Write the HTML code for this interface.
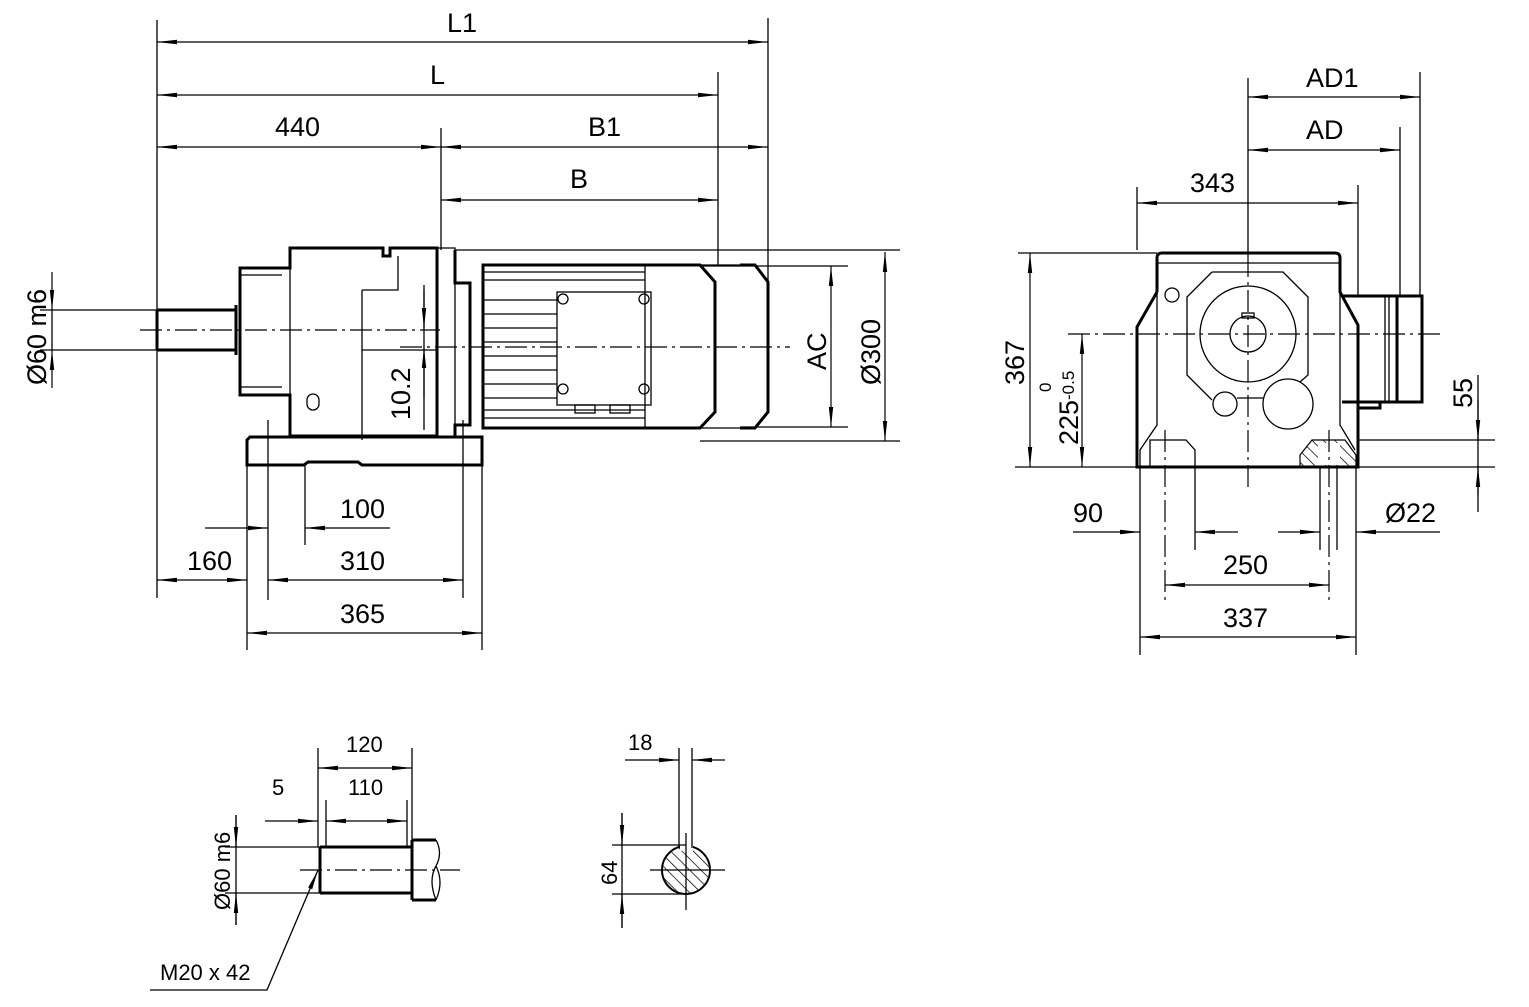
<!DOCTYPE html>
<html><head><meta charset="utf-8"><style>
html,body{margin:0;padding:0;background:#fff;}
svg{display:block;}
text{font-family:"Liberation Sans",sans-serif;font-size:27px;fill:#000;}
.t{stroke:#000;stroke-width:1.3;fill:none;}
.k{stroke:#000;stroke-width:3;fill:none;}
.c{stroke:#000;stroke-width:1.2;fill:none;stroke-dasharray:22,5,3,5;}
.d{stroke:#000;stroke-width:1.2;fill:none;marker-start:url(#a);marker-end:url(#a);}
.e{stroke:#000;stroke-width:1.2;fill:none;marker-end:url(#a);}
</style></head><body>
<svg width="1529" height="1007" viewBox="0 0 1529 1007" xmlns="http://www.w3.org/2000/svg">
<defs>
<marker id="a" viewBox="0 0 20 6" refX="20" refY="3" markerWidth="20" markerHeight="6" markerUnits="userSpaceOnUse" orient="auto-start-reverse">
<path d="M0,0.8 L20,3 L0,5.2 z" fill="#000"/></marker>
<pattern id="h" width="8" height="8" patternUnits="userSpaceOnUse" patternTransform="rotate(-45)"><line x1="0" y1="0" x2="0" y2="8" stroke="#000" stroke-width="1.5"/></pattern>
</defs>

<line class="t" x1="157" y1="20" x2="157" y2="598"/>
<line class="t" x1="768" y1="18" x2="768" y2="292"/>
<line class="t" x1="718" y1="72" x2="718" y2="265"/>
<line class="t" x1="441" y1="128" x2="441" y2="250"/>
<line class="d" x1="157" y1="42" x2="768" y2="42"/><text x="447" y="32">L1</text>
<line class="d" x1="157" y1="95" x2="718" y2="95"/><text x="430" y="84">L</text>
<line class="d" x1="157" y1="147" x2="441" y2="147"/><text x="275" y="136">440</text>
<line class="d" x1="441" y1="147" x2="768" y2="147"/><text x="588" y="136">B1</text>
<line class="d" x1="441" y1="200" x2="718" y2="200"/><text x="570" y="188">B</text>

<line class="t" x1="40" y1="310" x2="160" y2="310"/>
<line class="t" x1="40" y1="350" x2="160" y2="350"/>
<line class="e" x1="52" y1="272" x2="52" y2="310"/>
<line class="e" x1="52" y1="388" x2="52" y2="350"/>
<line class="t" x1="52" y1="310" x2="52" y2="350"/>
<text transform="translate(46,385) rotate(-90)">Ø60 m6</text>

<path class="k" d="M157,310 H236 M157,350 H236 M157,310 V350"/>
<path class="k" d="M236,305 V355 M240,268 H290 V248 H383 V256 H390 V248 H437 V436 H290 V395 H240 Z"/>
<path class="t" d="M240,275 H282 M240,387 H282 M290,256 V420 M362,290 V440 M362,290 H398 V256 M437,248 H455 V436 M362,350 H437"/>
<path class="k" d="M455,250 V283 H470 V425 H455 V436"/>
<path class="t" d="M455,250 H900"/>
<rect class="t" x="307" y="394" width="12" height="16" rx="6"/>
<path class="k" d="M250,437 H482 V465 H362 L358,462 H308 L304,465 H247 V440 Z"/>
<line class="t" x1="424" y1="285" x2="424" y2="430"/>
<line class="e" x1="424" y1="290" x2="424" y2="328"/>
<line class="e" x1="424" y1="398" x2="424" y2="348"/>
<text transform="translate(410,420) rotate(-90)">10.2</text>
<path class="k" d="M483,265 H700 L715,282 V412 L700,428 H483 Z"/>
<path class="k" d="M740,265 H755 L768,282 V412 L755,428 H740"/>
<path class="t" d="M483,272 H645 M483,280 H645 M483,418 H645 M483,410 H645 M645,265 V428 M700,265 H740 M700,428 H740"/>
<path class="t" d="M483,300 H557 M483,314 H557 M483,328 H557 M483,342 H557 M483,356 H557 M483,370 H557 M483,384 H557 M483,398 H557"/>
<rect class="t" x="557" y="292" width="94" height="113"/>
<rect class="t" x="575" y="405" width="20" height="8"/><rect class="t" x="610" y="405" width="20" height="8"/>
<circle class="t" cx="563" cy="299" r="5"/><circle class="t" cx="644" cy="299" r="5"/>
<circle class="t" cx="563" cy="389" r="5"/><circle class="t" cx="644" cy="389" r="5"/>
<line class="c" x1="140" y1="330" x2="440" y2="330"/>
<line class="c" x1="400" y1="347" x2="790" y2="347"/>
<line class="t" x1="700" y1="266" x2="848" y2="266"/>
<line class="t" x1="740" y1="427" x2="848" y2="427"/>
<line class="d" x1="831" y1="266" x2="831" y2="427"/>
<text transform="translate(826,370) rotate(-90)">AC</text>
<line class="t" x1="700" y1="441" x2="900" y2="441"/>
<line class="d" x1="885" y1="252" x2="885" y2="441"/>
<text transform="translate(880,385) rotate(-90)">Ø300</text>
<line class="t" x1="247" y1="440" x2="247" y2="650"/>
<line class="t" x1="268" y1="420" x2="268" y2="600"/>
<line class="t" x1="305" y1="465" x2="305" y2="545"/>
<line class="t" x1="463" y1="420" x2="463" y2="598"/>
<line class="t" x1="482" y1="465" x2="482" y2="650"/>
<line class="e" x1="205" y1="528" x2="268" y2="528"/>
<line class="e" x1="390" y1="528" x2="305" y2="528"/>
<text x="340" y="518">100</text>
<line class="d" x1="157" y1="580" x2="247" y2="580"/><text x="187" y="570">160</text>
<line class="d" x1="268" y1="580" x2="463" y2="580"/><text x="340" y="570">310</text>
<line class="d" x1="247" y1="633" x2="482" y2="633"/><text x="340" y="623">365</text>

<line class="t" x1="1420" y1="72" x2="1420" y2="296"/>
<line class="t" x1="1400" y1="127" x2="1400" y2="296"/>
<line class="t" x1="1137" y1="187" x2="1137" y2="250"/>
<line class="t" x1="1358" y1="185" x2="1358" y2="296"/>
<line class="t" x1="1248" y1="78" x2="1248" y2="255"/>
<line class="d" x1="1248" y1="97" x2="1420" y2="97"/><text x="1306" y="87">AD1</text>
<line class="d" x1="1248" y1="150" x2="1400" y2="150"/><text x="1306" y="139">AD</text>
<line class="d" x1="1137" y1="203" x2="1358" y2="203"/><text x="1190" y="192">343</text>
<path class="k" d="M1157,292 V258 Q1157,253 1162,253 H1335 Q1340,253 1340,258 V292 L1358,325 V467 H1137 V327 L1157,292"/>
<path class="t" d="M1157,263 H1340"/>
<path class="k" d="M1342,296 H1422 V402 H1342 M1397,296 V402 M1358,402 V408 H1380 V402"/>
<path class="t" d="M1389,296 V402 M1385,296 V402"/>
<path class="t" d="M1157,292 V425 L1140,450 V467 M1340,292 V425 L1355,450"/>
<circle class="t" cx="1172" cy="295" r="7"/>
<path class="t" d="M1212,272 H1283 L1308,297 V375 L1300,382 M1212,272 L1187,297 V375 L1212,400"/>
<circle class="t" cx="1248" cy="334" r="48"/>
<circle class="t" cx="1248" cy="334" r="18"/>
<rect class="t" x="1242" y="313" width="12" height="5"/>
<circle class="t" cx="1225" cy="404" r="12"/>
<circle class="t" cx="1288" cy="404" r="25"/>
<line class="t" x1="1237" y1="398" x2="1263" y2="398"/>
<path class="t" d="M1150,467 V440 L1160,440 H1186 L1195,450 V467"/>
<path d="M1300,467 V455 L1312,440 H1345 L1356,455 V467 Z" fill="url(#h)" stroke="#000" stroke-width="1.2"/>
<rect x="1318" y="443" width="22" height="22" fill="#fff"/>
<line class="c" x1="1068" y1="334" x2="1440" y2="334"/>
<line class="c" x1="1248" y1="255" x2="1248" y2="490"/>
<line class="t" x1="1018" y1="253" x2="1157" y2="253"/>
<line class="t" x1="1015" y1="467" x2="1137" y2="467"/>
<line class="d" x1="1030" y1="253" x2="1030" y2="467"/>
<text transform="translate(1024,385) rotate(-90)">367</text>
<line class="d" x1="1082" y1="334" x2="1082" y2="467"/>
<text transform="translate(1078,445) rotate(-90)">225</text>
<text transform="translate(1074,400) rotate(-90)" style="font-size:17px">-0.5</text>
<text transform="translate(1051,392) rotate(-90)" style="font-size:17px">0</text>
<line class="t" x1="1358" y1="440" x2="1495" y2="440"/>
<line class="t" x1="1358" y1="467" x2="1495" y2="467"/>
<line class="t" x1="1478" y1="375" x2="1478" y2="512"/>
<line class="e" x1="1478" y1="400" x2="1478" y2="440"/>
<line class="e" x1="1478" y1="495" x2="1478" y2="467"/>
<text transform="translate(1472,408) rotate(-90)">55</text>
<line class="t" x1="1140" y1="467" x2="1140" y2="655"/>
<line class="t" x1="1356" y1="467" x2="1356" y2="655"/>
<line class="t" x1="1195" y1="467" x2="1195" y2="550"/>
<line class="c" x1="1165" y1="430" x2="1165" y2="605"/>
<line class="c" x1="1329" y1="430" x2="1329" y2="605"/>
<line class="t" x1="1320" y1="467" x2="1320" y2="550"/>
<line class="t" x1="1337" y1="467" x2="1337" y2="550"/>
<line class="e" x1="1073" y1="532" x2="1140" y2="532"/>
<line class="e" x1="1238" y1="532" x2="1195" y2="532"/>
<text x="1073" y="522">90</text>
<line class="e" x1="1278" y1="532" x2="1320" y2="532"/>
<line class="e" x1="1440" y1="532" x2="1356" y2="532"/>
<text x="1385" y="522">Ø22</text>
<line class="d" x1="1165" y1="585" x2="1329" y2="585"/><text x="1223" y="574">250</text>
<line class="d" x1="1140" y1="637" x2="1356" y2="637"/><text x="1223" y="627">337</text>

<g>
<line class="t" x1="318" y1="748" x2="318" y2="847"/>
<line class="t" x1="412" y1="748" x2="412" y2="845"/>
<line class="t" x1="326" y1="800" x2="326" y2="847"/>
<line class="t" x1="407" y1="800" x2="407" y2="847"/>
<line class="d" x1="318" y1="768" x2="412" y2="768"/><text x="346" y="752" style="font-size:22px">120</text>
<line class="d" x1="326" y1="821" x2="407" y2="821"/><text x="348" y="795" style="font-size:22px">110</text>
<line class="e" x1="265" y1="821" x2="318" y2="821"/><text x="272" y="795" style="font-size:22px">5</text>
<path class="k" d="M320,847 H412 M320,893 H412 M320,847 V893 M412,840 V900 M412,840 H436 M412,900 H436"/>
<path class="t" d="M436,840 Q443,853 436,866 Q428,880 436,900 M436,866 Q444,882 436,900"/>
<line class="c" x1="300" y1="870" x2="460" y2="870"/>
<line class="t" x1="225" y1="847" x2="320" y2="847"/>
<line class="t" x1="225" y1="893" x2="320" y2="893"/>
<line class="t" x1="236" y1="815" x2="236" y2="925"/>
<line class="e" x1="236" y1="815" x2="236" y2="847"/>
<line class="e" x1="236" y1="925" x2="236" y2="893"/>
<text transform="translate(230,910) rotate(-90)" style="font-size:22px">Ø60 m6</text>
<path class="t" d="M318,870 L267,990 H150" marker-start="url(#a)"/>
<text x="160" y="980" style="font-size:22px">M20 x 42</text>
<circle cx="686" cy="870" r="24" fill="url(#h)" stroke="#000" stroke-width="2"/>
<rect x="680" y="843" width="13" height="8" fill="#fff"/>
<line class="t" x1="679" y1="748" x2="679" y2="848"/>
<line class="t" x1="692" y1="748" x2="692" y2="848"/>
<line class="t" x1="686" y1="833" x2="686" y2="910"/>
<line class="t" x1="650" y1="870" x2="725" y2="870"/>
<line class="e" x1="625" y1="760" x2="679" y2="760"/>
<line class="e" x1="725" y1="760" x2="692" y2="760"/>
<text x="628" y="750" style="font-size:22px">18</text>
<line class="t" x1="612" y1="845" x2="686" y2="845"/>
<line class="t" x1="612" y1="894" x2="686" y2="894"/>
<line class="t" x1="622" y1="813" x2="622" y2="928"/>
<line class="e" x1="622" y1="813" x2="622" y2="845"/>
<line class="e" x1="622" y1="928" x2="622" y2="894"/>
<text transform="translate(617,885) rotate(-90)" style="font-size:22px">64</text>
</g>
</svg>
</body></html>
